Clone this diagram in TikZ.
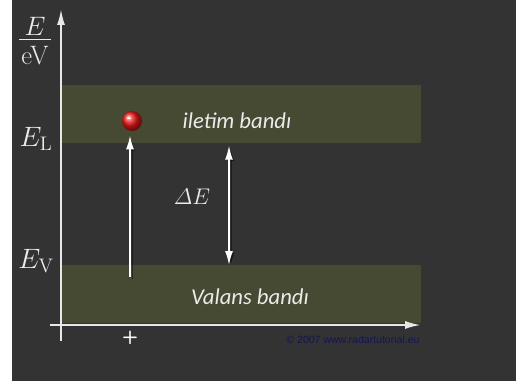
\RequirePackage{fix-cm}
\documentclass[tikz,border=0pt]{standalone}
\usepackage{amsmath}
\usepackage{fontspec}
\newfontfamily\bandfont{Carlito}
\newfontfamily\notefont{Liberation Sans}
\usetikzlibrary{positioning,arrows.meta}
\definecolor{panelgray}{HTML}{333333}
\definecolor{bandolive}{HTML}{464A32}
\definecolor{axisgray}{HTML}{E8E8E8}
\definecolor{notenavy}{HTML}{141458}
\definecolor{electronred}{HTML}{F01818}
\tikzset{
  band/.style={fill=bandolive, draw=none, anchor=north west, inner sep=0pt,
    outer sep=0pt, minimum width=270pt, minimum height=43.5pt},
  axisline/.style={draw=axisgray, line width=1.5pt},
  bandlab/.style={font=\bandfont\itshape\fontsize{17}{19}\selectfont, text=white!92!black},
  levlab/.style={font=\fontsize{21}{25}\selectfont, text=white!92!black},
  uparrow/.style={-{Latex[length=10.5pt, width=6pt]}, draw=white, line width=1.5pt,
    preaction={draw=black, opacity=.45, transform canvas={shift={(1.5pt,-1.5pt)}}}},
  gaparrow/.style={{Latex[length=10.5pt, width=6pt]}-{Latex[length=10.5pt, width=6pt]},
    draw=white, line width=1.2pt,
    preaction={draw=black, opacity=.45, transform canvas={shift={(1.5pt,-1.5pt)}}}},
  electron/.style={circle, shading=ball, ball color=electronred, minimum size=15pt,
    inner sep=0pt, text=white, font=\bfseries\small},
  notelab/.style={font=\notefont\fontsize{7.9}{9}\selectfont, text=notenavy},
}
\begin{document}
\begin{tikzpicture}[x=0.75pt, y=-0.75pt]
  \useasboundingbox (0,0) rectangle (516,381);
  \fill[white] (0,0) rectangle (12,381);
  \fill[panelgray] (12,0) rectangle (516,381);
  % energy bands
  \node[band] (cb) at (61,85) {};
  \node[band] (vb) at (61,265) {};
  \node[bandlab] (lcb) at (237,121) {iletim bandı};
  \node[bandlab] (lvb) at (250,297) {Valans bandı};
  % axes
  \coordinate (ybot) at (61,341);
  \coordinate (ytop) at (61,9);
  \coordinate (xleft) at (50,325);
  \coordinate (xright) at (421,325);
  \draw[axisline, -{Latex[length=12pt, width=6pt]}] (ybot) -- (ytop);
  \draw[axisline, -{Latex[length=12pt, width=6pt]}] (xleft) -- (xright);
  \node[levlab, font=\fontsize{20}{22}\selectfont, inner sep=0pt] (yunit) at (35,44)
    {\begin{tabular}{@{\hspace{1.5pt}}c@{\hspace{1.5pt}}}$E$\\[-3.6pt]\hline\rule{0pt}{18.2pt}eV\end{tabular}};
  \node[levlab] (elab) at (36,139) {$E_{\mathrm{L}}$};
  \node[levlab] (vlab) at (36,261) {$E_{\mathrm{V}}$};
  % electron and hole
  \node[electron] (el) at (132,121) {\hspace*{-4pt}\raisebox{1pt}{-}};
  \coordinate (ebase) at (130,277);
  \draw[uparrow, shorten >=3pt] (ebase) -- (el.south -| ebase);
  \node[font=\sffamily\bfseries\fontsize{14}{16}\selectfont, text=white] (hole) at (130,338) {+};
  % gap
  \coordinate (gx) at (229,0);
  \draw[gaparrow, shorten <=2pt] (cb.south -| gx) -- (vb.north -| gx);
  \node[levlab, font=\fontsize{17}{20}\selectfont] (gaplab) at (192,197) {$\varDelta E$};
  \node[notelab] (note) at (353,340) {\textcopyright\ 2007 www.radartutorial.eu};
\end{tikzpicture}
\end{document}
